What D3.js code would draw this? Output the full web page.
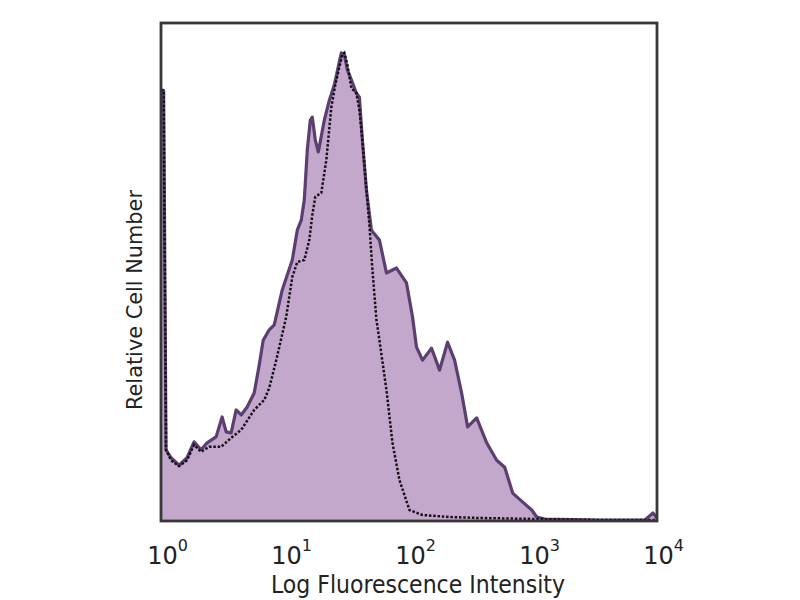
<!DOCTYPE html>
<html>
<head>
<meta charset="utf-8">
<script src="https://cdn.jsdelivr.net/npm/d3@7"></script>
<style>
  html, body { margin: 0; padding: 0; background: #fff; }
  svg { display: block; }
</style>
</head>
<body>
<svg id="chart" width="800" height="600"></svg>
<script>
// Stained sample (filled histogram)
const stainedIntensity = [1.00, 1.05, 1.098, 1.205, 1.398, 1.622, 1.848, 2.105, 2.353, 2.783, 3.111, 3.352, 3.679, 4.037, 4.431, 4.953, 5.643, 6.193, 6.673, 7.460, 8.188, 9.502, 11.45, 12.56, 13.53, 14.31, 15.13, 16.00, 16.60, 17.55, 18.56, 20.76, 22.79, 25.00, 27.44, 28.48, 30.12, 31.85, 34.31, 37.65, 39.81, 42.10, 45.36, 49.77, 57.76, 65.80, 79.25, 95.45, 106.7, 115.0, 128.6, 152.0, 176.4, 204.7, 233.2, 265.6, 297.0, 351.3, 423.0, 509.5, 591.1, 686.1, 826.4, 977.0, 1072, 1244, 3462, 8000, 9284, 10000];
const stainedCount = [86.5, 86.5, 14.3, 12.7, 11.2, 12.7, 15.9, 14.3, 15.7, 16.9, 20.9, 17.9, 17.7, 22.3, 21.3, 22.9, 25.7, 31.3, 36.3, 38.4, 39.4, 46.4, 52.4, 58.4, 60.4, 64.5, 74.5, 80.5, 81.1, 76.5, 74.1, 80.5, 84.5, 87.6, 92.2, 94.0, 93.6, 90.6, 88.6, 85.9, 85.1, 76.5, 66.5, 58.4, 56.4, 49.8, 50.8, 47.8, 41.0, 34.9, 32.3, 34.7, 30.3, 35.9, 32.3, 25.7, 18.9, 20.7, 15.7, 12.2, 10.8, 5.6, 3.8, 2.2, 0.8, 0.4, 0.2, 0.2, 1.6, 0.6];

// Isotype control (dashed outline)
const controlIntensity = [1.00, 1.05, 1.098, 1.205, 1.398, 1.622, 1.848, 2.105, 2.443, 3.054, 3.679, 4.431, 5.643, 6.798, 7.460, 8.500, 10.23, 11.45, 12.56, 14.31, 15.70, 16.60, 17.55, 19.63, 21.54, 23.64, 25.47, 27.44, 29.01, 30.12, 31.85, 34.31, 37.65, 39.81, 42.10, 45.36, 47.95, 50.71, 54.63, 57.76, 65.80, 73.55, 83.80, 100.9, 128.6, 212.5, 371.3, 1072, 3462, 10000];
const controlCount = [86.5, 86.5, 14.3, 12.2, 11.0, 12.2, 15.3, 13.9, 14.9, 14.9, 16.7, 18.3, 22.3, 24.3, 26.7, 32.3, 41.0, 49.0, 52.0, 52.4, 56.4, 61.4, 65.1, 65.9, 72.5, 83.1, 87.6, 91.2, 93.6, 94.0, 91.6, 86.9, 85.9, 82.5, 76.5, 66.5, 59.4, 50.4, 40.4, 36.3, 26.3, 15.7, 8.2, 2.2, 1.2, 0.8, 0.6, 0.4, 0.2, 0.2];

const tickValues = [1, 10, 100, 1000, 10000];
const tickExponents = ["0", "1", "2", "3", "4"];
const xTitle = "Log Fluorescence Intensity";
const yTitle = "Relative Cell Number";

const svg = d3.select("#chart");
const mLeft = 161, mRight = 657, mTop = 23, mBottom = 521;

const x = d3.scaleLog().domain([1, 10000]).range([mLeft, mRight]);
const y = d3.scaleLinear().domain([0, 100]).range([mBottom, mTop]);

const stained = stainedIntensity.map((v, i) => ({ x: v, y: stainedCount[i] }));
const control = controlIntensity.map((v, i) => ({ x: v, y: controlCount[i] }));

const area = d3.area().x(d => x(d.x)).y0(y(0)).y1(d => y(d.y));
const line = d3.line().x(d => x(d.x)).y(d => y(d.y));

svg.append("path").datum(stained)
  .attr("d", area)
  .attr("fill", "#c3a8cc");

svg.append("path").datum(stained)
  .attr("d", line)
  .attr("fill", "none")
  .attr("stroke", "#5a3f70")
  .attr("stroke-width", 3.2)
  .attr("stroke-linejoin", "round");

svg.append("path").datum(control)
  .attr("d", line)
  .attr("fill", "none")
  .attr("stroke", "#171019")
  .attr("stroke-width", 2.5)
  .attr("stroke-dasharray", "2.5,1.8");

// frame
svg.append("rect")
  .attr("x", mLeft).attr("y", mTop)
  .attr("width", mRight - mLeft).attr("height", mBottom - mTop)
  .attr("fill", "none")
  .attr("stroke", "#383838")
  .attr("stroke-width", 2.8);

// x axis (labels only)
const xAxis = svg.append("g")
  .attr("transform", `translate(0,${mBottom})`)
  .call(d3.axisBottom(x).tickValues(tickValues).tickSize(0).tickFormat(""));
xAxis.select(".domain").remove();
xAxis.selectAll(".tick").each(function(d, i) {
  const t = d3.select(this).append("text")
    .attr("x", 6)
    .attr("y", 43)
    .attr("fill", "#222")
    .attr("text-anchor", "middle")
    .style("font-family", "'DejaVu Sans', sans-serif")
    .style("font-size", "24px");
  t.append("tspan").text("10");
  t.append("tspan").attr("dy", -13).style("font-size", "16px").text(tickExponents[i]);
});

svg.append("text")
  .attr("x", 418).attr("y", 593)
  .attr("text-anchor", "middle")
  .attr("fill", "#222")
  .attr("textLength", 294)
  .attr("lengthAdjust", "spacingAndGlyphs")
  .style("font-family", "'DejaVu Sans', sans-serif")
  .style("font-size", "24px")
  .text(xTitle);

svg.append("text")
  .attr("transform", "translate(142,300) rotate(-90)")
  .attr("text-anchor", "middle")
  .attr("fill", "#222")
  .attr("textLength", 220)
  .attr("lengthAdjust", "spacingAndGlyphs")
  .style("font-family", "'DejaVu Sans', sans-serif")
  .style("font-size", "21px")
  .text(yTitle);
</script>
</body>
</html>
